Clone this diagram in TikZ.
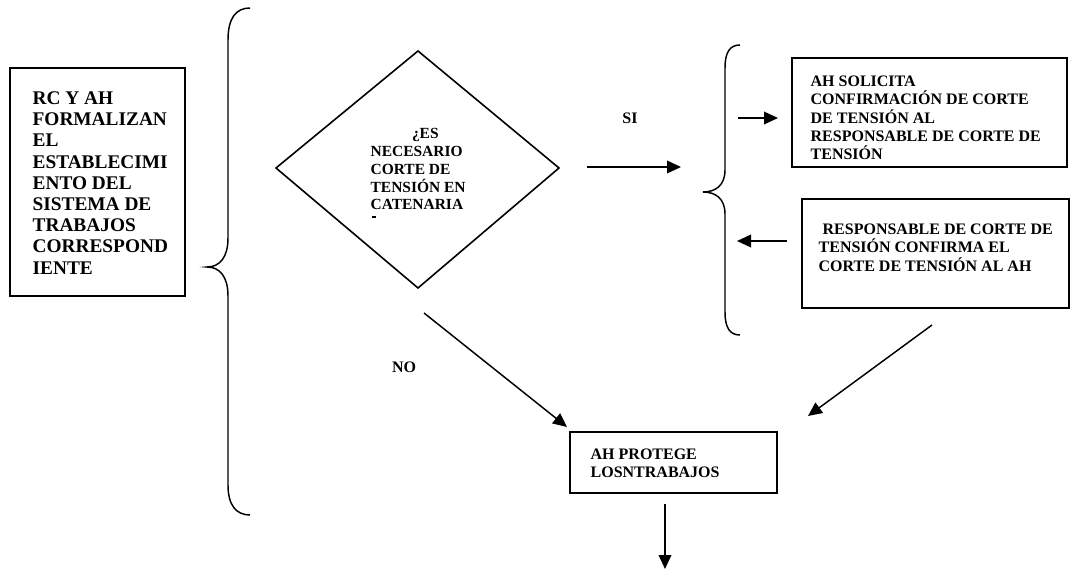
\documentclass[tikz,border=0pt]{standalone}
\usepackage{fontspec}
\setmainfont{Liberation Serif}
\usetikzlibrary{arrows.meta,fit}
\begin{document}
\begin{tikzpicture}[x=0.75pt,y=-0.75pt,line width=1pt,
  box/.style={draw,line width=1.4pt,inner sep=0pt},
  txtL/.style={anchor=north west,inner sep=0pt,align=left,font=\bfseries\fontsize{14.5}{15.9}\selectfont},
  txt/.style={anchor=north west,inner sep=0pt,align=left,font=\bfseries\fontsize{12}{13.8}\selectfont},
  txtD/.style={anchor=north west,inner sep=0pt,align=left,font=\bfseries\fontsize{11.6}{13.3}\selectfont},
  lbl/.style={inner sep=0pt,font=\bfseries\fontsize{12}{13.8}\selectfont},
  arr/.style={-{Triangle[length=10.5pt,width=9.5pt]},line width=1.1pt},
  brace/.style={line width=1.1pt}]
\useasboundingbox (0,0) rectangle (1071,574);
\fill[white] (0,0) rectangle (1071,574);

% left box
\node[box,fit={(10,68) (185,296)}] (lbox) {};
\node[txtL] (ltxt) at (32,91) {RC Y AH\\FORMALIZAN\\EL\\ESTABLECIMI\\ENTO DEL\\SISTEMA DE\\TRABAJOS\\CORRESPOND\\IENTE};

% big brace
\draw[brace] (250,8) .. controls (236,8) and (228,18) .. (228,40) -- (228,238)
  .. controls (228,257) and (220,267) .. (207,267)
  .. controls (220,267) and (228,277) .. (228,296) -- (228,485)
  .. controls (228,505) and (236,515) .. (250,515);

% diamond
\draw[line width=1.2pt] (418,51) coordinate (dT) -- (559,168) coordinate (dR) -- (418,288) coordinate (dB) -- (276,168) coordinate (dL) -- cycle;
\node[txtD] (dtxt) at (370,128) {\hspace*{31pt}¿ES\\NECESARIO\\CORTE DE\\TENSIÓN EN\\CATENARIA};
\draw[line width=0.8pt] (372,217) -- (376,217);

% SI
\node[lbl] (si) at (630,118) {SI};
\coordinate (siS) at (587,167);
\coordinate (siE) at (681,167);
\draw[arr] (siS) -- (siE);

% right brace
\draw[brace] (740,45) .. controls (730,45) and (725,52) .. (725,68) -- (725,170)
  .. controls (725,185) and (716,192) .. (703,192)
  .. controls (716,192) and (725,199) .. (725,214) -- (725,312)
  .. controls (725,328) and (730,335) .. (740,335);

% box 1
\node[box,fit={(792,58) (1067,167)}] (b1) {};
\node[txt] (b1t) at (810,75) {AH SOLICITA\\CONFIRMACIÓN DE CORTE\\DE TENSIÓN AL\\RESPONSABLE DE CORTE DE\\TENSIÓN};
\coordinate (a1S) at (738,118);
\coordinate (a1E) at (778,118);
\draw[arr] (a1S) -- (a1E);

% box 2
\node[box,fit={(802,199) (1069,308)}] (b2) {};
\node[txt] (b2t) at (818,223) {\hspace*{3pt}RESPONSABLE DE CORTE DE\\TENSIÓN CONFIRMA EL\\CORTE DE TENSIÓN AL AH};
\coordinate (a2S) at (787,241);
\coordinate (a2E) at (737,241);
\draw[arr] (a2S) -- (a2E);

% NO
\node[lbl] (no) at (404,367) {NO};
\coordinate (noS) at (424,313);
\coordinate (noE) at (567,427);
\draw[arr] (noS) -- (noE);

% right diagonal
\coordinate (rS) at (932,325);
\coordinate (rE) at (808,416);
\draw[arr] (rS) -- (rE);

% box 3
\node[box,fit={(570,432) (777,493)}] (b3) {};
\node[txt] (b3t) at (590,448) {AH PROTEGE\\LOSNTRABAJOS};
\coordinate (dS) at (665,504);
\coordinate (dE) at (665,569);
\draw[arr] (dS) -- (dE);
\end{tikzpicture}
\end{document}
